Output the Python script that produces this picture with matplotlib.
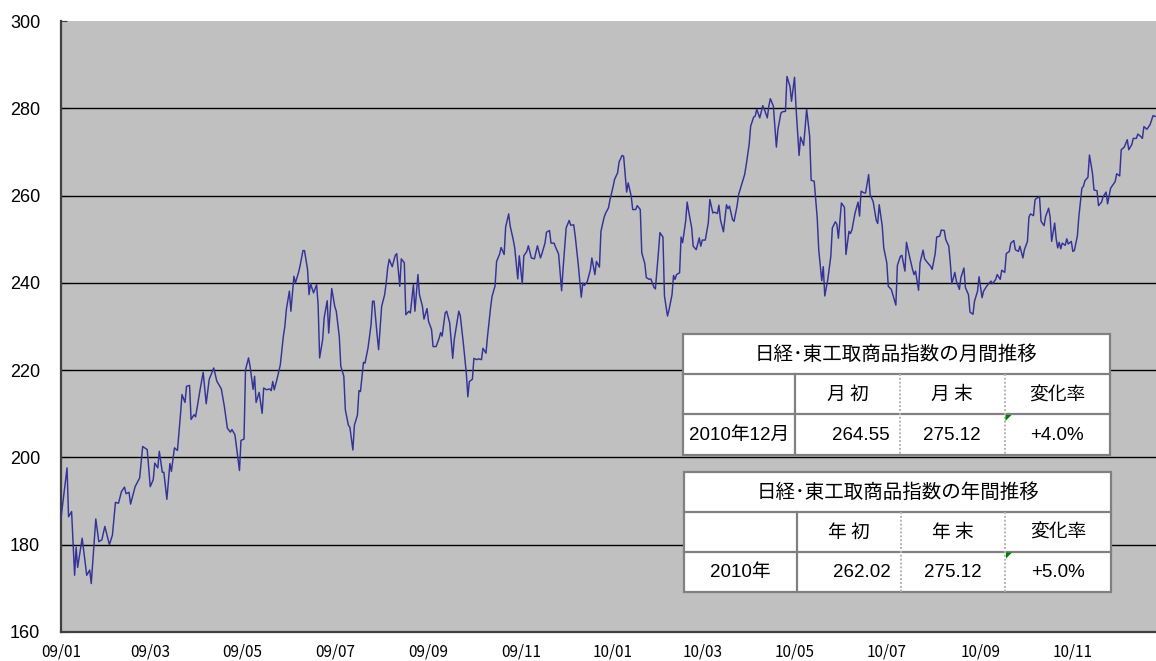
import matplotlib
matplotlib.use('Agg')
import matplotlib.pyplot as plt
from matplotlib.patches import Rectangle, Polygon
from matplotlib.lines import Line2D
import pandas as pd

plt.rcParams['font.family'] = ['Noto Sans CJK JP', 'DejaVu Sans']

# ---------------- data ----------------
start_date = '2009-01-05'
end_offset_days = 724
day_offsets = [
    0, 4, 5, 7, 9, 10, 11, 14, 17, 19, 20, 22, 23, 25, 27, 29, 32, 34, 36, 38, 40, 42, 43, 45, 46, 49,
    52, 54, 57, 59, 61, 62, 64, 65, 67, 68, 70, 72, 73, 75, 77, 79, 80, 82, 83, 85, 86, 88, 89, 92, 94,
    96, 98, 101, 103, 106, 108, 110, 112, 113, 115, 116, 118, 119,
    121, 122, 124, 125, 127, 128, 129, 131, 133, 134, 136, 138, 139, 140, 141, 143, 145, 147, 148, 149,
    151, 152, 154, 155, 157, 158, 160, 161, 163, 164, 165, 167, 169, 170, 171, 173, 174, 176, 177, 179,
    181, 182, 184, 185, 187, 188, 190, 191, 193, 194, 196, 197, 198, 200, 201, 203, 205, 206, 207, 209,
    210, 212, 214, 215, 216, 217, 219, 221, 222, 224, 225, 227, 228, 230, 231, 233, 234, 236, 237, 239,
    240, 242, 243, 245,
    246, 248, 250, 251, 252, 254, 255, 257, 259, 260, 263, 264, 266, 268, 269, 270, 272, 273, 275, 276,
    278, 279, 281, 282, 284, 285, 287, 288, 290, 291, 293, 294, 296, 297, 299, 300, 302, 303, 305, 306,
    308, 309, 311, 313, 315, 317, 318, 320, 321, 323, 324, 326, 327, 329, 331, 332, 334, 336, 337, 339,
    340, 342, 344, 345, 346, 348, 350, 351, 353, 354, 356, 357, 359, 360, 362, 363, 365, 366, 368, 369,
    371, 372, 374, 375,
    377, 378, 380, 381, 383, 384, 386, 387, 389, 390, 392, 393, 395, 396, 398, 399, 401, 402, 404, 405,
    406, 407, 409, 410, 411, 413, 414, 415, 417, 418, 420, 422, 423, 424, 426, 428, 429, 431, 432, 434,
    435, 436, 438, 440, 441, 442, 444, 445, 447, 448, 450, 452, 453, 455, 456, 458, 459, 460, 462, 464,
    465, 467, 468, 469, 471, 473, 474, 476, 477, 479, 480, 482, 483, 485, 486, 488, 489, 491, 492, 493, 495,
    496, 498, 500, 501, 503, 504, 505, 507, 509, 510, 512, 513, 514, 516, 518, 519, 521, 522, 523, 525,
    527, 528, 529, 531, 532, 534, 535, 537, 539, 540, 541, 543, 544, 546, 547, 549, 550, 552, 553, 555,
    556, 558, 559, 561, 563, 564, 565, 567, 568, 570, 571, 573, 575, 576, 578, 579, 581, 582, 584, 585,
    587, 588, 589, 591, 592, 594, 595, 597, 598, 600, 601, 603, 604, 606,
    607, 609, 610, 612, 614, 615, 616, 618, 619, 621, 622, 624, 625, 627, 628, 630, 631, 633, 634, 636,
    637, 639, 640, 641, 643, 644, 645, 647, 648, 650, 651, 653, 654, 655, 657, 658, 659, 660, 661, 662,
    664, 665, 666, 668, 669, 670, 672, 673, 675, 676, 677, 679, 680, 682, 683, 685, 686, 688, 689, 691,
    692, 694, 695, 697, 698, 700, 701, 703, 705, 706, 708, 709, 711, 712, 714, 715, 716, 718, 720, 721,
    722, 724,
]
index_values = [
    186.1, 197.6, 186.4, 187.6, 173.0, 179.4, 174.8, 181.5, 173.0, 174.2, 171.1, 181.1, 185.9, 180.7,
    181.1, 184.2, 180.0, 182.2, 189.7, 189.5, 192.2, 193.2, 191.7, 192.0, 189.3, 193.3, 195.3, 202.5,
    201.8, 193.3, 194.9, 198.7, 197.6, 201.4, 196.6, 196.6, 190.4, 198.6, 196.8, 202.2, 201.6, 209.8,
    214.4, 212.6, 216.3, 216.5, 208.7, 209.8, 209.3, 215.6, 219.5, 212.3, 217.9, 220.5, 217.5, 215.7,
    211.7, 206.7, 205.8, 206.4, 205.2, 202.5, 197.0, 203.9,
    204.2, 220.1, 222.8, 220.9, 215.6, 218.6, 212.6, 214.9, 210.1, 215.9, 215.5, 215.7, 215.3, 217.4,
    215.5, 218.2, 221.2, 227.7, 230.0, 233.9, 238.1, 233.5, 241.5, 240.0, 242.3, 243.8, 247.4, 247.4,
    243.1, 237.3, 239.8, 237.7, 239.6, 235.0, 222.8, 227.0, 232.0, 235.9, 228.5, 238.7, 234.6, 233.5,
    227.7, 220.9, 218.6, 210.9, 207.4, 206.9, 201.7, 207.4, 209.7, 215.3, 215.1, 221.8, 221.6, 225.1,
    230.4, 235.8, 235.8, 228.1, 224.7, 234.6, 237.3, 240.0, 243.4, 245.4, 243.7, 246.3, 246.7, 239.2,
    245.5, 244.6, 232.7, 233.5, 233.1, 239.6, 233.5, 241.9, 237.3, 234.6, 231.7, 234.1, 231.2, 229.3,
    225.4, 225.4, 227.3, 228.6, 227.8, 233.1, 233.5, 230.8, 222.7, 227.0, 233.5, 232.5, 226.2, 219.3,
    213.9, 217.4, 217.9, 222.7, 222.4, 222.6, 222.4, 225.0, 223.9, 227.7, 234.2, 236.9, 239.3, 244.9,
    246.6, 248.1, 246.5, 252.8, 255.8, 253.0, 249.9, 248.0, 240.9, 246.2, 239.8, 246.2, 247.2, 248.5,
    245.7, 245.5, 248.5, 245.7, 246.7, 249.1, 251.6, 252.0, 249.1, 249.1, 248.2, 246.6, 238.2, 243.4,
    252.6, 254.3, 253.2, 253.3, 250.7, 244.2, 236.7, 240.0, 239.4, 240.3, 243.0, 245.7, 241.9, 244.9,
    243.6, 251.8, 254.9, 255.9, 257.2, 259.1, 262.0, 263.7, 265.2, 267.7, 269.2, 269.0, 260.8, 262.9,
    259.9, 256.8, 256.8, 257.7, 256.8, 246.9, 244.4, 241.2, 240.8, 240.9, 239.0, 238.6, 246.9, 251.5,
    250.5, 237.0, 232.4, 233.8, 237.3, 241.7, 240.8, 241.9, 242.3, 250.5, 249.2, 254.1, 258.5, 256.4,
    252.6, 248.4, 247.6, 250.3, 248.4, 249.8, 249.8, 253.8, 259.1, 256.0, 256.2, 255.9, 257.8, 254.5,
    251.7, 257.9, 257.0, 257.6, 254.5, 254.1, 257.6, 260.2, 262.5, 264.8, 266.9, 271.7, 275.9, 278.0,
    278.2, 279.8, 277.8, 280.6, 279.8, 277.8, 280.5, 282.2, 280.5, 271.1, 275.1, 278.9, 279.2, 279.3,
    287.3, 285.0, 281.6, 287.1, 280.1, 269.2, 273.4, 271.5, 275.5, 279.8, 273.6,
    263.5, 263.3, 254.9, 247.6, 240.5, 243.7, 237.0, 240.8, 246.1, 252.6, 254.0, 253.4, 250.2, 258.3,
    257.3, 246.5, 251.8, 251.3, 252.2, 256.0, 258.5, 255.3, 261.0, 260.6, 260.6, 264.8, 260.2, 258.6,
    254.4, 253.6, 257.9, 253.0, 248.0, 244.6, 239.2, 238.5, 237.3, 234.9, 244.0, 246.1, 246.3, 242.7,
    249.3, 246.1, 243.1, 241.9, 242.7, 238.3, 244.6, 247.5, 245.5, 244.6, 243.8, 243.1, 246.7, 250.5,
    250.7, 252.1, 252.0, 249.9, 248.4, 244.6, 239.8, 242.4, 240.4, 238.5, 241.2, 243.4, 238.9, 237.3,
    233.3, 232.8, 235.8, 238.1,
    241.4, 236.6, 238.1, 239.2, 240.1, 240.4, 239.8, 240.8, 241.9, 240.8, 242.9, 242.4, 246.7, 247.2,
    249.1, 249.7, 247.6, 247.2, 248.4, 245.7, 247.6, 249.5, 255.1, 255.8, 255.4, 259.0, 259.4, 259.7,
    254.1, 253.1, 255.2, 257.1, 255.1, 249.5, 253.7, 250.1, 248.0, 249.3, 247.8, 249.1, 248.6, 250.1,
    248.9, 249.5, 247.2, 247.4, 250.7, 255.2, 261.7, 262.1, 263.4, 264.2, 269.3, 265.1, 261.3, 261.1,
    257.7, 258.5, 259.7, 260.8, 258.1, 261.7, 262.2, 263.2, 265.0, 264.5, 270.5, 271.1, 272.8, 270.5,
    271.7, 273.1, 273.1, 274.1, 273.5, 273.1, 275.8, 275.2, 276.2, 277.2, 278.3, 278.1,
]
y_ticks = [160, 180, 200, 220, 240, 260, 280, 300]
x_tick_labels = ['09/01', '09/03', '09/05', '09/07', '09/09', '09/11',
                 '10/01', '10/03', '10/05', '10/07', '10/09', '10/11']

monthly_title = '日経･東工取商品指数の月間推移'
monthly_header = ['', '月 初', '月 末', '変化率']
monthly_row = ['2010年12月', '264.55', '275.12', '+4.0%']
yearly_title = '日経･東工取商品指数の年間推移'
yearly_header = ['', '年 初', '年 末', '変化率']
yearly_row = ['2010年', '262.02', '275.12', '+5.0%']

# ---------------- figure ----------------
W, H = 1156, 661
fig = plt.figure(figsize=(W / 100, H / 100), dpi=100)
fig.patch.set_facecolor('white')

def fx(x):
    return x / W

def fy(y):
    return 1 - y / H

ax = fig.add_axes([fx(61), fy(632), (1156 - 61) / W, (632 - 21) / H])
ax.set_facecolor('#C0C0C0')

start = pd.Timestamp(start_date)
dates = start + pd.to_timedelta(day_offsets, unit='D')
ax.plot(dates, index_values, color='#333399', lw=1.05, zorder=3)

ax.set_xlim(start, start + pd.Timedelta(days=end_offset_days))
ax.set_ylim(y_ticks[0], y_ticks[-1])
ax.set_yticks(y_ticks)
ax.set_yticklabels([str(v) for v in y_ticks], family=['Liberation Sans', 'DejaVu Sans'], fontsize=13)
xt = pd.date_range(start, periods=len(x_tick_labels), freq=pd.DateOffset(months=2))
ax.set_xticks(xt)
ax.set_xticklabels(x_tick_labels, fontsize=11)
ax.tick_params(axis='y', direction='in', length=4, pad=15, color='#404040')
ax.tick_params(axis='x', length=0, pad=8)
for yv in y_ticks[1:-1]:
    ax.axhline(yv, color='black', lw=1.0, zorder=2)
for s in ['top', 'right']:
    ax.spines[s].set_visible(False)
for s in ['left', 'bottom']:
    ax.spines[s].set_color('#404040')
    ax.spines[s].set_linewidth(1.6)

# ---------------- tables ----------------
def draw_table(left, right, rows_y, cols_x, title, header, row):
    border = '#808080'
    lw = 1.6
    top, r1, r2, bottom = rows_y
    fig.patches.append(Rectangle((fx(left), fy(bottom)), fx(right - left), (bottom - top) / H,
                                 transform=fig.transFigure, facecolor='white',
                                 edgecolor=border, lw=lw, zorder=5))
    for yy in (r1, r2):
        fig.lines.append(Line2D([fx(left), fx(right)], [fy(yy), fy(yy)], transform=fig.transFigure,
                                color=border, lw=lw, zorder=6))
    fig.lines.append(Line2D([fx(cols_x[0]), fx(cols_x[0])], [fy(r1), fy(bottom)],
                            transform=fig.transFigure, color=border, lw=lw, zorder=6))
    for cx in cols_x[1:]:
        fig.lines.append(Line2D([fx(cx), fx(cx)], [fy(r1), fy(bottom)], transform=fig.transFigure,
                                color='#b4b4b4', lw=1.4, ls=(0, (1, 1)), zorder=6))
    cx = cols_x[2]
    fig.patches.append(Polygon([(fx(cx + 1), fy(r2 + 1)), (fx(cx + 7), fy(r2 + 1)), (fx(cx + 1), fy(r2 + 7))],
                               closed=True, transform=fig.transFigure, facecolor='#008000',
                               edgecolor='none', zorder=7))
    tf = dict(transform=fig.transFigure, zorder=8, color='black')
    fam = ['Liberation Sans', 'Noto Sans CJK JP']
    fig.text(fx((left + right) / 2), fy((top + r1) / 2 + 1), title, ha='center', va='center',
             fontsize=14, **tf)
    hy = fy((r1 + r2) / 2 + 1)
    edges = [left] + list(cols_x) + [right]
    for i in range(1, 4):
        fig.text(fx((edges[i] + edges[i + 1]) / 2), hy, header[i], ha='center', va='center',
                 fontsize=13.5, **tf)
    dy = fy((r2 + bottom) / 2 + 1)
    fig.text(fx((edges[0] + edges[1]) / 2), dy, row[0], ha='center', va='center',
             fontsize=13.5, family=fam, **tf)
    fig.text(fx(edges[2] - 10), dy, row[1], ha='right', va='center', fontsize=13.5, family=fam, **tf)
    fig.text(fx((edges[2] + edges[3]) / 2), dy, row[2], ha='center', va='center', fontsize=13.5,
             family=fam, **tf)
    fig.text(fx((edges[3] + edges[4]) / 2), dy, row[3], ha='center', va='center', fontsize=13.5,
             family=fam, **tf)

draw_table(683, 1110, (334, 373.5, 414, 454.5), (795, 900, 1004.5),
           monthly_title, monthly_header, monthly_row)
draw_table(684, 1111, (472, 511.5, 551.5, 592), (796.5, 900.5, 1005),
           yearly_title, yearly_header, yearly_row)

fig.savefig('out.png', dpi=100)
